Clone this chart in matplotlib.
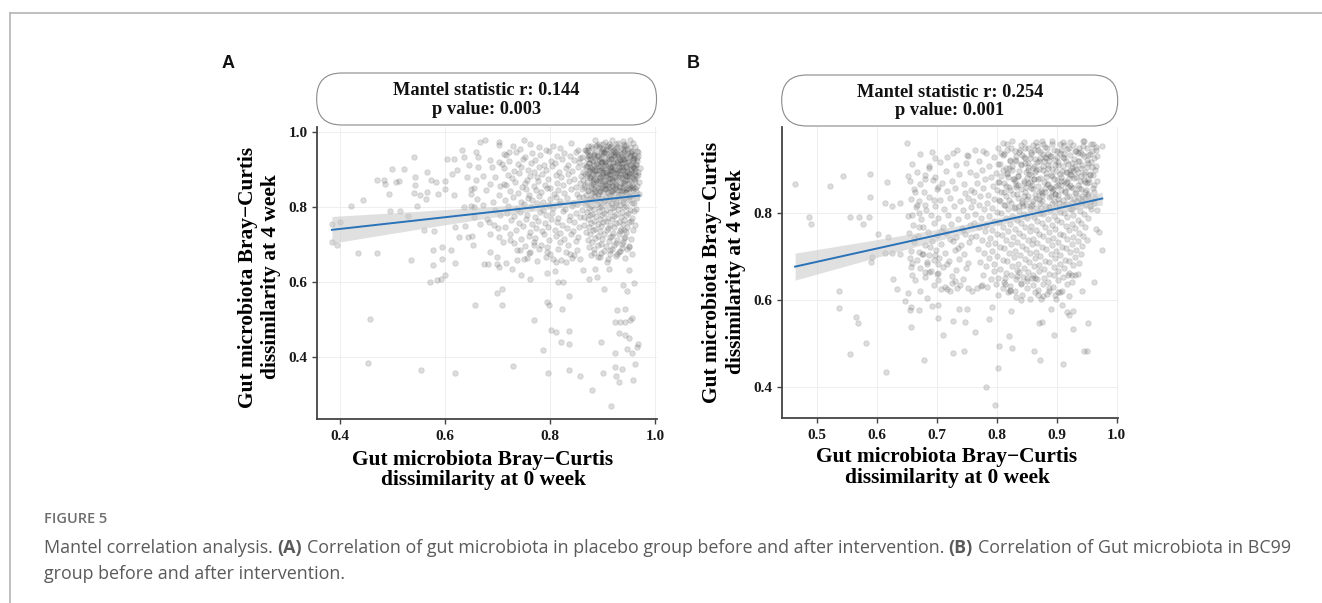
import numpy as np
import matplotlib
matplotlib.use('Agg')
import matplotlib.pyplot as plt
from matplotlib.patches import FancyBboxPatch
from matplotlib.lines import Line2D

# ---- data (values in thousandths) ----
# panel A: placebo group, (x = dissimilarity at 0 week, y = at 4 week)
a_outer = [(384, 755), (399, 759), (384, 706), (394, 697), (421, 802), (444, 819), (434, 676), (470, 676),
           (457, 501), (452, 383), (554, 365), (618, 357), (469, 870), (483, 872), (486, 860), (492, 835),
           (498, 901), (522, 901), (506, 866), (512, 868), (495, 788), (514, 788), (529, 774), (541, 932),
           (542, 879), (542, 859), (541, 837), (546, 802), (552, 830), (563, 821), (565, 839), (566, 893),
           (535, 659), (560, 739), (578, 736), (570, 599), (584, 604), (592, 608), (600, 619), (576, 684),
           (594, 692), (610, 685), (576, 645), (594, 661), (618, 650), (573, 870), (582, 866), (600, 868),
           (599, 848), (587, 835), (603, 926), (617, 926), (613, 888), (622, 897), (616, 830), (632, 950),
           (635, 932), (646, 910), (641, 879), (648, 848), (654, 851), (658, 870), (649, 835), (635, 799),
           (649, 801), (655, 799), (618, 746), (638, 748), (627, 719), (644, 719), (651, 721), (653, 697),
           (655, 772), (667, 755), (673, 648), (681, 648), (698, 648), (716, 650), (657, 539), (708, 537),
           (698, 571), (708, 580), (667, 972), (676, 979), (702, 972), (702, 964), (750, 979), (659, 946),
           (663, 932), (686, 924), (689, 906), (686, 861), (702, 919), (708, 915), (721, 946), (711, 861),
           (702, 830), (683, 759), (692, 750), (703, 719), (709, 706), (686, 679), (698, 666), (703, 639),
           (727, 635), (737, 659), (662, 905), (671, 882), (677, 845), (690, 812), (695, 790), (679, 766),
           (705, 777), (700, 742), (686, 728), (671, 805), (660, 820), (695, 880), (705, 856), (712, 940)]
a_lower = [(729, 374), (768, 497), (786, 417), (794, 546), (798, 537), (802, 470), (810, 466), (835, 468),
           (822, 528), (835, 561), (821, 439), (836, 433), (795, 356), (835, 364), (857, 348), (879, 310),
           (897, 439), (900, 357), (916, 268), (744, 617), (761, 608), (794, 624), (808, 628), (814, 599),
           (824, 599), (902, 580), (911, 635), (938, 590), (946, 575), (960, 597), (949, 630), (927, 525),
           (943, 528), (923, 492), (933, 492), (943, 492), (952, 497), (956, 503), (930, 463), (943, 457),
           (949, 450), (924, 411), (947, 420), (956, 411), (965, 426), (968, 435), (923, 372), (937, 368),
           (962, 380), (926, 348), (930, 332), (957, 339), (873, 608), (889, 612), (886, 635), (863, 632),
           (724, 710), (737, 684), (749, 661), (762, 679), (768, 697), (794, 679), (806, 661), (810, 652),
           (829, 652), (838, 675), (851, 684), (857, 661), (883, 676), (895, 666), (908, 652), (914, 684),
           (927, 675), (937, 701), (949, 692), (956, 675), (940, 737)]
a_mid = [(728, 961), (743, 955), (761, 967), (779, 958), (792, 952), (806, 963), (818, 956), (840, 969), (852, 951),
         (715, 938), (734, 946), (752, 932), (766, 944), (781, 937), (797, 949), (812, 934), (826, 942), (838, 936),
         (849, 947), (857, 931), (722, 921), (738, 913), (748, 928), (763, 917), (771, 925), (788, 911), (801, 922),
         (809, 916), (822, 927), (833, 912), (846, 924), (855, 918), (712, 902), (731, 895), (744, 907), (757, 899),
         (769, 893), (778, 905), (791, 898), (804, 909), (817, 892), (829, 903), (841, 896), (853, 906), (719, 884),
         (727, 876), (741, 889), (755, 872), (762, 883), (774, 879), (785, 887), (796, 874), (811, 885), (820, 878),
         (834, 888), (845, 873), (858, 881), (716, 858), (733, 866), (746, 852), (751, 863), (768, 855), (777, 868),
         (789, 859), (800, 851), (813, 864), (824, 857), (836, 869), (848, 853), (856, 862), (724, 843), (739, 836),
         (753, 848), (760, 832), (772, 845), (783, 838), (794, 849), (807, 833), (815, 844), (827, 837), (839, 846),
         (850, 834), (713, 818), (729, 826), (745, 813), (758, 824), (766, 817), (779, 829), (787, 812), (799, 821),
         (810, 827), (819, 815), (831, 823), (843, 811), (854, 825), (720, 803), (736, 794), (749, 806), (764, 798),
         (775, 809), (786, 792), (798, 804), (805, 797), (816, 808), (828, 793), (842, 801), (851, 806), (717, 782),
         (731, 775), (742, 787), (756, 779), (770, 772), (781, 786), (792, 777), (803, 783), (814, 771), (825, 788),
         (837, 776), (848, 784), (857, 773), (726, 764), (740, 757), (754, 768), (765, 753), (777, 762), (790, 756),
         (801, 767), (812, 759), (823, 752), (835, 765), (846, 758), (714, 745), (735, 737), (748, 748), (761, 733),
         (773, 742), (784, 736), (795, 747), (808, 739), (819, 731), (832, 744), (844, 735), (855, 746), (723, 726),
         (744, 714), (759, 723), (771, 717), (788, 728), (797, 712), (811, 721), (826, 715), (840, 727), (852, 718),
         (731, 703), (752, 695), (768, 707), (782, 698), (793, 693), (818, 705), (834, 697), (848, 709), (743, 684),
         (760, 677), (779, 688), (800, 673), (815, 686), (830, 679), (846, 672), (756, 662), (775, 655), (792, 667),
         (821, 658), (841, 664)]
a_core = [(885, 977), (905, 972), (917, 979), (938, 974), (951, 978), (872, 963), (893, 968), (910, 961), (926, 967),
          (944, 964), (958, 969), (866, 952), (879, 957), (898, 954), (913, 959), (921, 951), (934, 956), (947, 953),
          (962, 958), (869, 946), (884, 941), (896, 948), (907, 943), (918, 947), (929, 940), (940, 945), (953, 942),
          (966, 949), (861, 932), (876, 937), (889, 934), (901, 939), (912, 931), (924, 936), (936, 933), (945, 938),
          (957, 930), (968, 935), (870, 926), (882, 921), (893, 928), (904, 923), (915, 927), (927, 920), (933, 925),
          (948, 922), (960, 929), (864, 912), (874, 917), (887, 914), (899, 919), (909, 911), (919, 916), (931, 913),
          (942, 918), (952, 910), (964, 915), (868, 906), (880, 901), (891, 908), (902, 903), (913, 907), (923, 900),
          (937, 905), (946, 902), (958, 909), (970, 904), (862, 892), (873, 897), (885, 894), (896, 899), (906, 891),
          (916, 896), (928, 893), (939, 898), (950, 890), (961, 895), (867, 886), (878, 881), (889, 888), (900, 883),
          (911, 887), (921, 880), (932, 885), (944, 882), (955, 889), (967, 884), (863, 872), (875, 877), (884, 874),
          (894, 879), (905, 871), (914, 876), (926, 873), (935, 878), (947, 870), (959, 875), (870, 866), (881, 861),
          (892, 868), (903, 863), (912, 867), (924, 860), (938, 865), (949, 862), (962, 869), (865, 852), (877, 857),
          (888, 854), (898, 859), (908, 851), (918, 856), (930, 853), (941, 858), (953, 850), (965, 855), (860, 846),
          (872, 841), (883, 848), (895, 843), (904, 847), (916, 840), (927, 845), (936, 842), (948, 849), (958, 844),
          (868, 832), (879, 837), (890, 834), (901, 839), (911, 831), (922, 836), (934, 833), (945, 838), (956, 830),
          (969, 835), (863, 826), (874, 821), (886, 828), (897, 823), (907, 827), (919, 820), (929, 825), (940, 822),
          (951, 829), (963, 824), (870, 812), (882, 817), (893, 814), (905, 819), (915, 811), (926, 816), (938, 813),
          (949, 818), (960, 810), (866, 806), (877, 801), (889, 808), (899, 803), (910, 807), (921, 800), (933, 805),
          (944, 802), (955, 809), (861, 792), (873, 797), (884, 794), (895, 799), (906, 791), (917, 796), (929, 793),
          (940, 798), (952, 790), (964, 795), (869, 786), (880, 781), (892, 788), (903, 783), (914, 787), (925, 780),
          (937, 785), (948, 782), (959, 789), (864, 772), (876, 777), (887, 774), (898, 779), (910, 771), (922, 776),
          (934, 773), (945, 778), (956, 770), (871, 766), (883, 761), (894, 768), (906, 763), (918, 767), (930, 760),
          (941, 765), (953, 762), (865, 752), (878, 757), (890, 754), (901, 759), (913, 751), (926, 756), (938, 753),
          (950, 758), (961, 750), (873, 746), (886, 741), (897, 748), (909, 743), (921, 747), (935, 740), (947, 745),
          (868, 732), (882, 737), (895, 734), (908, 739), (920, 731), (933, 736), (944, 733), (957, 738), (876, 726),
          (890, 721), (903, 728), (917, 723), (930, 727), (943, 720), (871, 712), (886, 717), (899, 714), (914, 719),
          (928, 711), (940, 716), (953, 713), (880, 706), (896, 701), (911, 708), (925, 703), (938, 707), (874, 692),
          (891, 697), (907, 694), (922, 699), (936, 691), (950, 696), (884, 686), (902, 681), (918, 688), (933, 683),
          (946, 687), (878, 672), (897, 677), (914, 674), (931, 679), (890, 666), (909, 661), (926, 668), (942, 663)]
a_peak = [(876, 928), (883, 912), (891, 936), (897, 920), (903, 947), (909, 928), (915, 903), (921, 938), (927, 916),
          (933, 944), (939, 926), (944, 908), (888, 897), (899, 884), (908, 893), (917, 876), (925, 889), (936, 899),
          (946, 883), (881, 865), (893, 872), (904, 858), (913, 866), (924, 849), (935, 862), (943, 871), (952, 856),
          (886, 843), (897, 851), (909, 838), (920, 845), (931, 832), (941, 841), (878, 822), (890, 829), (902, 816),
          (914, 824), (926, 811), (938, 819), (949, 827), (872, 952), (887, 961), (900, 957), (912, 966), (926, 954),
          (940, 961), (953, 947), (958, 925), (962, 902), (955, 878), (871, 891), (869, 908), (875, 880), (883, 939),
          (894, 905), (906, 917), (918, 895), (930, 907), (942, 888), (954, 895)]
a_peak2 = [(868, 951), (874, 938), (879, 925), (885, 947), (889, 914), (892, 958), (896, 931), (899, 903), (902, 942),
           (905, 919), (908, 955), (911, 936), (913, 897), (916, 927), (919, 948), (922, 909), (924, 933), (927, 958),
           (929, 921), (932, 899), (934, 941), (937, 914), (939, 953), (941, 928), (944, 905), (946, 944), (948, 918),
           (951, 935), (953, 901), (956, 949), (958, 924), (960, 939), (963, 912), (965, 930), (967, 946), (870, 882),
           (876, 894), (881, 871), (887, 886), (891, 863), (895, 877), (898, 892), (903, 868), (906, 881), (910, 859),
           (914, 888), (917, 872), (920, 856), (923, 879), (926, 866), (930, 891), (933, 853), (936, 876), (940, 862),
           (943, 884), (945, 848), (949, 870), (952, 887), (955, 858), (959, 874), (962, 851), (964, 882), (969, 866),
           (866, 858), (872, 845), (878, 853), (884, 840), (890, 849), (894, 843), (900, 856), (907, 846), (912, 852),
           (918, 841), (925, 858), (931, 844), (938, 851), (944, 839), (950, 846), (957, 853), (963, 842), (873, 916),
           (880, 903), (886, 929), (893, 897), (897, 944), (904, 911), (909, 885), (915, 941), (921, 893), (928, 937),
           (935, 907), (942, 892), (947, 931), (954, 913), (961, 888), (966, 922), (871, 935), (877, 962), (883, 899),
           (888, 872), (894, 921), (901, 889), (907, 952), (912, 874), (918, 909), (924, 947), (931, 878), (937, 926),
           (943, 952), (949, 881), (955, 938), (960, 903), (889, 965), (901, 968), (915, 962), (929, 969), (941, 966),
           (952, 960), (899, 918), (913, 906), (927, 897), (939, 917), (905, 897), (920, 918), (932, 928), (946, 896),
           (958, 906), (968, 893), (875, 905), (882, 888)]

# panel B: BC99 group
b_outer = [(464, 866), (522, 861), (544, 883), (589, 889), (651, 960), (617, 869), (653, 884), (589, 836),
           (487, 790), (491, 773), (556, 790), (571, 789), (588, 790), (578, 773), (603, 752), (614, 823),
           (626, 815), (639, 821), (619, 744), (614, 708), (625, 708), (639, 706), (592, 698), (591, 687),
           (537, 620), (538, 582), (566, 560), (569, 547), (583, 502), (556, 476), (616, 435), (679, 462),
           (658, 537), (658, 584), (656, 576), (647, 597), (670, 576), (627, 647), (634, 626), (652, 616),
           (673, 620), (684, 605), (692, 586), (703, 589), (703, 559), (711, 519), (727, 479), (746, 482),
           (728, 552), (747, 550), (764, 527), (738, 578), (751, 580), (788, 556), (792, 584), (804, 495),
           (803, 443), (826, 490), (821, 518), (782, 401), (797, 360), (863, 482), (873, 462), (895, 519),
           (911, 453), (890, 578), (870, 547), (876, 550), (909, 588), (917, 573), (921, 565), (928, 575),
           (928, 534), (953, 546), (945, 482), (950, 482), (824, 574), (841, 599), (869, 611), (874, 601),
           (887, 620), (898, 612), (906, 617), (920, 608), (942, 621), (962, 641), (976, 714), (970, 756),
           (976, 952), (967, 805), (926, 656), (931, 656), (919, 658), (859, 649), (864, 649), (851, 649),
           (841, 637), (834, 654), (837, 664), (814, 649), (814, 637), (823, 622), (803, 611), (823, 620),
           (776, 634), (784, 630), (753, 627), (759, 620), (767, 627), (774, 632), (734, 627), (723, 621),
           (708, 624), (714, 630), (726, 639), (731, 644), (701, 660), (703, 662), (687, 664), (680, 664),
           (656, 695), (659, 685), (657, 676), (659, 656), (664, 645), (670, 710), (678, 706), (687, 702),
           (695, 691), (703, 683), (684, 683), (672, 935), (692, 939), (718, 927), (734, 943), (751, 931),
           (764, 943), (778, 941), (687, 901), (698, 882), (703, 859), (664, 847), (681, 878), (667, 817),
           (659, 794), (670, 799), (681, 817), (695, 828)]
b_mid = [(698, 926), (728, 936), (752, 929), (659, 912), (687, 906),
         (705, 916), (733, 909), (749, 914), (668, 893), (681, 886), (716, 895), (737, 888), (755, 892), (655, 872),
         (673, 866), (694, 875), (709, 868), (726, 873), (745, 865), (662, 853), (679, 846), (701, 855), (718, 849),
         (731, 856), (748, 844), (758, 851), (657, 832), (671, 827), (688, 835), (706, 828), (722, 834), (739, 826),
         (753, 833), (666, 813), (683, 806), (697, 815), (712, 809), (729, 814), (744, 805), (757, 812), (652, 793),
         (674, 786), (690, 795), (703, 788), (719, 794), (735, 785), (750, 792), (661, 772), (678, 766), (695, 775),
         (710, 768), (724, 774), (742, 765), (756, 771), (654, 753), (669, 746), (686, 755), (700, 748), (716, 754),
         (732, 745), (747, 752), (663, 732), (680, 726), (693, 735), (708, 728), (727, 734), (740, 725), (754, 733),
         (658, 713), (676, 706), (699, 715), (714, 708), (730, 714), (746, 705), (667, 692), (684, 686), (704, 695),
         (721, 688), (738, 694), (752, 685), (672, 673), (691, 666), (711, 675), (733, 668), (749, 674), (681, 652),
         (702, 646), (725, 655), (744, 648), (695, 633), (718, 626), (739, 635), (662, 741), (689, 722), (707, 757),
         (722, 739), (736, 718), (744, 761), (757, 744), (671, 768), (698, 702), (717, 681)]
b_core = [(818, 958), (845, 962), (861, 955), (876, 964), (893, 957), (910, 961), (927, 954), (944, 963), (958, 956),
          (803, 947), (830, 941), (852, 949), (869, 943), (884, 948), (901, 940), (917, 946), (933, 942), (950, 949),
          (966, 944), (782, 937), (811, 931), (838, 939), (858, 933), (873, 938), (889, 930), (906, 936), (922, 932),
          (939, 939), (955, 934), (795, 927), (822, 921), (846, 928), (864, 923), (880, 927), (897, 920), (913, 926),
          (929, 922), (946, 929), (962, 924), (770, 917), (806, 911), (832, 918), (853, 913), (870, 917), (886, 910),
          (903, 916), (919, 912), (936, 919), (952, 914), (787, 907), (815, 901), (841, 908), (860, 903), (877, 907),
          (893, 900), (910, 906), (926, 902), (943, 909), (959, 904), (776, 897), (799, 891), (826, 898), (849, 893),
          (866, 897), (882, 890), (899, 896), (915, 892), (932, 899), (948, 894), (765, 887), (791, 881), (818, 888),
          (836, 883), (857, 887), (873, 880), (890, 886), (907, 882), (923, 889), (940, 884), (956, 887), (781, 877),
          (803, 871), (829, 878), (845, 873), (862, 877), (879, 870), (896, 876), (912, 872), (929, 879), (945, 874),
          (768, 867), (794, 861), (812, 868), (833, 863), (852, 867), (869, 860), (885, 866), (902, 862), (918, 869),
          (935, 864), (951, 867), (778, 857), (800, 851), (821, 858), (840, 853), (858, 857), (874, 850), (891, 856),
          (908, 852), (924, 859), (941, 854), (960, 857), (763, 847), (786, 841), (808, 848), (827, 843), (847, 847),
          (864, 840), (880, 846), (897, 842), (914, 849), (930, 844), (947, 847), (773, 837), (796, 831), (816, 838),
          (835, 833), (853, 837), (870, 830), (887, 836), (903, 832), (920, 839), (937, 834), (953, 837), (761, 827),
          (784, 821), (804, 828), (824, 823), (842, 827), (859, 820), (876, 826), (893, 822), (910, 829), (926, 824),
          (943, 827), (963, 822), (770, 817), (792, 811), (813, 818), (831, 813), (849, 817), (866, 810), (882, 816),
          (899, 812), (916, 819), (932, 814), (949, 817), (779, 807), (800, 801), (819, 808), (838, 803), (856, 807),
          (872, 800), (889, 806), (906, 802), (922, 809), (939, 804), (957, 807), (764, 797), (787, 791), (808, 798),
          (826, 793), (845, 797), (862, 790), (878, 796), (895, 792), (912, 799), (928, 794), (945, 797), (774, 787),
          (796, 781), (815, 788), (834, 783), (851, 787), (868, 780), (885, 786), (901, 782), (918, 789), (935, 784),
          (952, 787), (762, 777), (783, 771), (804, 778), (822, 773), (841, 777), (858, 770), (875, 776), (892, 772),
          (908, 779), (925, 774), (941, 777), (771, 767), (792, 761), (811, 768), (830, 763), (848, 767), (865, 760),
          (881, 766), (898, 762), (915, 769), (931, 764), (948, 767), (966, 762), (780, 757), (801, 751), (819, 758),
          (837, 753), (855, 757), (871, 750), (888, 756), (905, 752), (921, 759), (938, 754), (766, 747), (789, 741),
          (809, 748), (827, 743), (844, 747), (861, 740), (878, 746), (894, 742), (911, 749), (928, 744), (944, 747),
          (775, 737), (797, 731), (816, 738), (834, 733), (852, 737), (868, 730), (885, 736), (902, 732), (918, 739),
          (935, 734), (951, 737), (785, 727), (806, 721), (824, 728), (842, 723), (859, 727), (876, 720), (892, 726),
          (909, 722), (925, 729), (942, 724), (769, 717), (793, 711), (813, 718), (831, 713), (849, 717), (866, 710),
          (883, 716), (899, 712), (916, 719), (932, 714), (779, 707), (801, 701), (821, 708), (839, 703), (856, 707),
          (873, 700), (890, 706), (906, 702), (923, 709), (940, 704), (788, 697), (810, 691), (829, 698), (847, 693),
          (864, 697), (881, 690), (897, 696), (914, 692), (930, 699), (772, 687), (796, 681), (817, 688), (836, 683),
          (854, 687), (871, 680), (888, 686), (905, 682), (921, 689), (938, 684), (783, 677), (806, 671), (826, 678),
          (845, 673), (862, 677), (879, 670), (896, 676), (912, 672), (928, 679), (795, 667), (815, 661), (834, 668),
          (853, 663), (870, 667), (887, 660), (903, 666), (920, 662), (778, 657), (803, 651), (824, 658), (844, 653),
          (861, 657), (879, 650), (895, 656), (911, 652), (935, 659), (790, 647), (812, 641), (833, 648), (851, 643),
          (868, 647), (885, 640), (902, 646), (926, 642), (799, 637), (822, 631), (841, 638), (860, 633), (877, 637),
          (894, 630), (917, 636), (810, 627), (831, 621), (850, 628), (869, 623), (888, 627), (909, 620), (819, 617),
          (843, 611), (864, 618), (884, 613), (903, 617), (833, 607), (856, 601), (878, 608), (899, 603)]
b_peak = [(803, 912), (808, 884), (812, 935), (816, 861), (820, 903), (824, 948), (827, 877), (831, 921), (834, 842),
          (838, 896), (841, 955), (845, 868), (848, 914), (851, 831), (854, 889), (857, 939), (860, 853), (863, 907),
          (866, 962), (869, 876), (872, 924), (875, 845), (878, 898), (881, 951), (884, 866), (887, 917), (890, 838),
          (893, 884), (896, 944), (899, 861), (902, 909), (905, 958), (908, 872), (911, 928), (914, 847), (917, 893),
          (920, 949), (923, 864), (926, 913), (929, 832), (932, 881), (935, 936), (938, 856), (941, 901), (944, 952),
          (947, 869), (950, 921), (953, 843), (956, 888), (959, 941), (962, 862), (965, 906), (968, 929), (806, 826),
          (814, 818), (822, 852), (829, 811), (836, 864), (843, 823), (850, 879), (858, 815), (865, 834), (873, 821),
          (880, 857), (888, 812), (895, 827), (903, 841), (910, 817), (918, 836), (925, 808), (933, 845), (940, 822),
          (948, 834), (955, 816), (963, 848), (810, 959), (818, 943), (826, 964), (833, 930), (840, 911), (847, 947),
          (855, 924), (862, 943), (870, 899), (877, 958), (885, 935), (892, 963), (900, 927), (907, 944), (915, 918),
          (922, 961), (930, 941), (937, 917), (945, 963), (952, 932), (960, 957), (966, 951), (804, 871), (811, 898),
          (819, 881), (826, 907), (835, 884), (842, 931), (849, 859), (856, 871), (864, 892), (871, 848), (879, 917),
          (886, 901), (894, 853), (901, 874), (909, 896), (916, 868), (924, 887), (931, 906), (939, 873), (946, 889),
          (954, 869), (961, 886), (967, 872), (813, 847), (821, 829), (830, 872), (837, 816), (846, 839), (853, 898),
          (861, 826), (868, 915), (876, 838), (883, 882), (891, 929), (898, 842), (906, 889), (913, 933), (921, 879),
          (928, 856), (936, 893), (943, 838), (951, 904), (958, 827), (964, 897), (807, 936), (823, 918), (839, 944),
          (852, 905), (867, 953), (882, 925), (897, 910), (912, 955), (927, 896), (942, 934), (957, 916), (844, 816),
          (859, 862), (874, 811), (889, 858), (904, 822), (919, 859), (934, 826), (949, 852), (964, 834), (817, 890),
          (832, 858), (847, 926), (862, 878), (877, 935), (892, 849), (907, 863), (922, 898), (937, 949), (952, 877)]

stat_a = ("0.144", "0.003")
stat_b = ("0.254", "0.001")
a_xticks = [0.4, 0.6, 0.8, 1.0]
a_yticks = [0.4, 0.6, 0.8, 1.0]
b_xticks = [0.5, 0.6, 0.7, 0.8, 0.9, 1.0]
b_yticks = [0.4, 0.6, 0.8]

xlab = "Gut microbiota Bray\u2212Curtis\ndissimilarity at 0 week"
ylab = "Gut microbiota Bray\u2212Curtis\ndissimilarity at 4 week"
caption = [("Mantel correlation analysis. ", "normal"), ("(A)", "bold"),
           (" Correlation of gut microbiota in placebo group before and after intervention. ", "normal"),
           ("(B)", "bold"), (" Correlation of Gut microbiota in BC99", "normal")]
caption2 = "group before and after intervention."

W, H = 1322, 603
serif = ['Liberation Serif', 'DejaVu Serif']


def split(*groups):
    arr = np.array([p for g in groups for p in g], dtype=float) / 1000
    return arr[:, 0], arr[:, 1]


def smooth(x, y):
    # lm fit with 95% band, like geom_smooth(method = "lm")
    n = len(x)
    b, a = np.polyfit(x, y, 1)
    xs = np.linspace(x.min(), x.max(), 100)
    fit = a + b * xs
    s = np.sqrt(np.sum((y - (a + b * x)) ** 2) / (n - 2))
    sxx = np.sum((x - x.mean()) ** 2)
    se = s * np.sqrt(1 / n + (xs - x.mean()) ** 2 / sxx)
    return xs, fit, 1.962 * se


fig = plt.figure(figsize=(W / 100, H / 100), dpi=100)

# page frame
fig.add_artist(Line2D([9.5 / W, 1], [1 - 12.7 / H] * 2, color='#b4b4b4', lw=1.2))
fig.add_artist(Line2D([9.5 / W] * 2, [0, 1 - 12.7 / H], color='#b4b4b4', lw=1.2))


def panel(rect, x, y, stat, xticks, yticks, xlim, ylim, letter, letter_px, strip_px, xl_pos, yl_pos):
    l, t, r, b = rect
    ax = fig.add_axes([l / W, 1 - b / H, (r - l) / W, (b - t) / H])
    ax.set_xlim(xlim)
    ax.set_ylim(ylim)
    ax.set_xticks(xticks)
    ax.set_yticks(yticks)
    ax.set_xticklabels(["%.1f" % v for v in xticks])
    ax.set_yticklabels(["%.1f" % v for v in yticks])
    ax.grid(color='#eeeeee', lw=0.7)
    ax.set_axisbelow(True)
    ax.scatter(x, y, s=16, facecolor='#505050', edgecolor='#505050', lw=0.5, alpha=0.2, zorder=2)
    xs, fit, ci = smooth(x, y)
    ax.fill_between(xs, fit - ci, fit + ci, color='#c8c8c8', alpha=0.55, lw=0, zorder=3)
    ax.plot(xs, fit, color='#2a72b8', lw=1.4, zorder=4)
    for side in ['top', 'right']:
        ax.spines[side].set_visible(False)
    for side in ['left', 'bottom']:
        ax.spines[side].set_color('#444444')
        ax.spines[side].set_linewidth(1.3)
    ax.tick_params(length=3.5, width=1.0, color='#444444', labelcolor='#1a1a1a')
    ax.tick_params(axis='x', pad=4.5)
    ax.tick_params(axis='y', pad=3)
    for lab in ax.get_xticklabels() + ax.get_yticklabels():
        lab.set_family(serif)
        lab.set_weight('bold')
        lab.set_size(11)

    ax.set_xlabel(xlab, family=serif, weight='bold', size=15.4, linespacing=1.02, va='center')
    ax.xaxis.set_label_coords((xl_pos[0] - l) / (r - l), (b - xl_pos[1]) / (b - t))
    ax.set_ylabel(ylab, family=serif, weight='bold', size=15.4, linespacing=1.22, va='center')
    ax.yaxis.set_label_coords((yl_pos[0] - l) / (r - l), (b - yl_pos[1]) / (b - t))

    # facet-like strip with pill shape
    st, sb = strip_px
    box = FancyBboxPatch((l / 100, (H - sb) / 100), (r - l) / 100, (sb - st) / 100,
                         boxstyle='round,pad=0,rounding_size=0.25', transform=fig.dpi_scale_trans,
                         facecolor='white', edgecolor='#8a8a8a', lw=0.8)
    fig.add_artist(box)
    fig.text((l + r) / 2 / W, 1 - ((st + sb) / 2 + 1) / H,
             "Mantel statistic r: %s\np value: %s" % stat, ha='center', va='center',
             family=serif, weight='bold', size=13.2, linespacing=1.15, color='#111111')
    fig.text(letter_px[0] / W, 1 - letter_px[1] / H, letter, ha='center', va='center',
             family=['Liberation Sans', 'DejaVu Sans'], weight='bold', size=13, color='#111111')
    return ax


xa, ya = split(a_outer, a_lower, a_mid, a_core, a_peak, a_peak2)
xb, yb = split(b_outer, b_mid, b_core, b_peak)

panel((316.7, 127, 656.5, 419), xa, ya, stat_a, a_xticks, a_yticks, (0.355, 1.0023), (0.234, 1.0125),
      'A', (228, 63), (73, 125), (483, 470), (259.5, 277))
panel((781.7, 127, 1117.7, 417.7), xb, yb, stat_b, b_xticks, b_yticks, (0.4417, 1.0017), (0.330, 0.996),
      'B', (693, 63), (75, 126), (947, 467.5), (724, 272))

# caption below the figure
cap_font = ['Open Sans', 'DejaVu Sans']
cap_size = 12.9
fig.text(44 / W, 1 - 519 / H, "FIGURE 5", ha='left', va='center', family=cap_font,
         weight='semibold', size=10.5, color='#6e6e6e')
renderer = fig.canvas.get_renderer()
t1 = fig.text(0, 0, "a a", family=cap_font, size=cap_size)
t2 = fig.text(0, 0, "aa", family=cap_font, size=cap_size)
space = t1.get_window_extent(renderer).width - t2.get_window_extent(renderer).width
t1.remove()
t2.remove()
xpos = 44.0
for piece, wt in caption:
    lead = len(piece) - len(piece.lstrip(' '))
    trail = len(piece) - len(piece.rstrip(' '))
    xpos += lead * space
    txt = fig.text(xpos / W, 1 - 548 / H, piece.strip(), ha='left', va='center', family=cap_font,
                   weight=wt, size=cap_size, color='#5a5a5a')
    xpos += txt.get_window_extent(renderer).width + trail * space
fig.text(44 / W, 1 - 574 / H, caption2, ha='left', va='center', family=cap_font,
         size=cap_size, color='#5a5a5a')

fig.savefig('out.png', dpi=100)
